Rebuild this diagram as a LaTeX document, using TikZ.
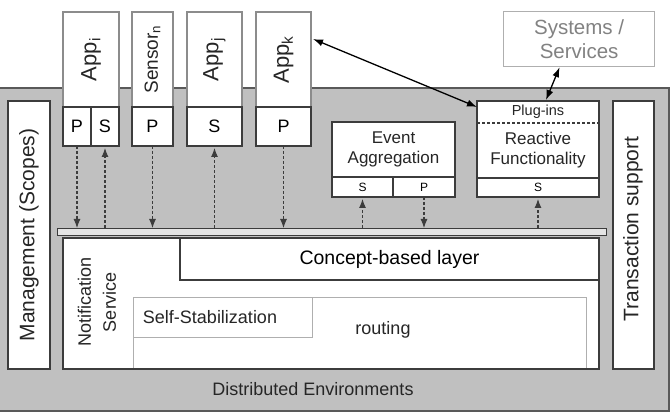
\documentclass[tikz,border=0pt]{standalone}
\usepackage{fontspec}
\setmainfont{Liberation Sans}
\usetikzlibrary{arrows.meta,calc}
\definecolor{bggray}{RGB}{192,192,192}
\definecolor{edge}{RGB}{60,60,60}
\definecolor{midedge}{RGB}{140,140,140}
\definecolor{lite}{RGB}{175,175,175}
\definecolor{bartint}{RGB}{228,228,228}
\definecolor{greytext}{RGB}{130,130,130}
\newcommand\fs[1]{\fontsize{#1}{#1}\selectfont}
\newcommand\rbox[6][]{\node[bx,minimum width=#4pt,minimum height=#5pt,#1] (#2) at (#3) {#6};}
\tikzset{
  bx/.style={draw=edge, line width=1.3pt, fill=white, inner sep=0pt, outer sep=0pt, anchor=north west},
  appbox/.style={draw=midedge, line width=1.2pt},
  litebox/.style={draw=lite, line width=0.9pt},
  txt/.style={inner sep=0pt, align=center, text=black!85},
  flow/.style={draw=edge, line width=1.1pt, dash pattern=on 3pt off 2pt, -{Latex[length=9pt,width=7pt]}},
  link/.style={draw=black, line width=1.3pt, {Latex[length=10pt,width=7pt]}-{Latex[length=10pt,width=7pt]}},
}
\begin{document}
\begin{tikzpicture}[x=1pt,y=-1pt]
\useasboundingbox (0,0) rectangle (672,419);
% environment background
\node[draw=black!65, line width=2.2pt, fill=bggray, anchor=north west, inner sep=0pt,
      minimum width=672pt, minimum height=323pt] (env) at (-4,87) {};
\node[txt, font=\fs{18}] (envlabel) at (313,389) {Distributed Environments};

% side boxes
\rbox{mgmt}{8,101}{42}{268}{}
\node[txt, rotate=90, font=\fs{21}] (mgmtlabel) at (mgmt.center) {Management (Scopes)};
\rbox{trans}{613,101}{41}{268}{}
\node[txt, rotate=90, font=\fs{21}] (translabel) at (633,229) {Transaction support};

% applications
\rbox[appbox]{appi}{63,12}{56}{95}{}
\node[txt, rotate=90, font=\fs{22}] (appilabel) at (appi.center) {App\textsubscript{i}};
\rbox{appiP}{63,107}{28}{39}{\fs{18}P}
\rbox{appiS}{91,107}{28}{39}{\fs{18}S}

\rbox[appbox]{sens}{132,12}{41}{95}{}
\node[txt, rotate=90, font=\fs{19}] (senslabel) at (sens.center) {Sensor\textsubscript{n}};
\rbox{sensP}{132,107}{41}{39}{\fs{18}P}

\rbox[appbox]{appj}{187,12}{55}{95}{}
\node[txt, rotate=90, font=\fs{22}] (appjlabel) at (appj.center) {App\textsubscript{j}};
\rbox{appjS}{187,107}{55}{39}{\fs{18}S}

\rbox[appbox]{appk}{256,12}{55}{95}{}
\node[txt, rotate=90, font=\fs{22}] (appklabel) at (appk.center) {App\textsubscript{k}};
\rbox{appkP}{256,107}{55}{39}{\fs{18}P}

% event aggregation
\rbox{ea}{332,122}{123}{55}{}
\node[txt, font=\fs{17}, align=center] (ealabel) at (ea.center) {Event\\[3pt]Aggregation};
\rbox{eaS}{332,177}{61}{20}{\fs{12}S}
\rbox{eaP}{393,177}{62}{20}{\fs{12}P}

% reactive functionality
\rbox{react}{477,101}{122}{77}{}
\draw[edge, line width=1.1pt, dash pattern=on 3pt off 2pt] (477,123) -- (599,123);
\node[txt, font=\fs{14.5}] (plugins) at (538,112) {Plug-ins};
\node[txt, font=\fs{17}, align=center] (reactlabel) at (538,150.5) {Reactive\\[3pt]Functionality};
\rbox{reactS}{477,178}{122}{19}{\fs{12}S}

% systems / services
\node[draw=lite, line width=1.2pt, fill=white, inner sep=0pt, anchor=north west,
      minimum width=151pt, minimum height=55pt, text=greytext, font=\fs{20.5}, align=center] (sys) at (503,11)
      {Systems /\\[3pt]Services};

% bus bar
\node[draw=edge, line width=1.2pt, fill=bartint, inner sep=0pt, anchor=north west,
      minimum width=549pt, minimum height=7pt] (bar) at (57,228) {};

% notification service
\rbox{notif}{63,238}{536}{131}{}
\rbox{concept}{180,238}{419}{42}{\fs{19.5}Concept-based layer}
\node[litebox, fill=white, inner sep=0pt, anchor=north west, minimum width=453pt, minimum height=72pt] (routing) at (133,297) {};
\node[txt, font=\fs{18}] (routinglabel) at (383,330) {routing};
\node[litebox, fill=white, inner sep=0pt, anchor=north west, minimum width=179pt, minimum height=40pt] (selfstab) at (133,297) {};
\node[txt, font=\fs{18}] (selfstablabel) at (210,317) {Self-Stabilization};
\draw[edge, line width=1.3pt] (63,369) -- (599,369);
\node[txt, rotate=90, font=\fs{18}, align=center] (notiflabel) at (97,302) {Notification\\[7pt]Service};

% publish / subscribe flows
\draw[flow] (appiP.south) -- (appiP.south |- bar.north);
\draw[flow] (appiS.south |- bar.north) -- ([yshift=-2pt]appiS.south);
\draw[flow] (sensP.south) -- (sensP.south |- bar.north);
\draw[flow] (appjS.south |- bar.north) -- ([yshift=-2pt]appjS.south);
\draw[flow] (appkP.south) -- (appkP.south |- bar.north);
\draw[flow] (eaS.south |- bar.north) -- ([yshift=-2pt]eaS.south);
\draw[flow] (eaP.south) -- (eaP.south |- bar.north);
\draw[flow] (reactS.south |- bar.north) -- ([yshift=-2pt]reactS.south);

% plug-in links
\draw[link] ([xshift=2pt,yshift=20.5pt]appk.east) -- ([yshift=-6pt]react.north west);
\draw[link] ([xshift=8pt,yshift=1pt]react.north) -- ([xshift=-19.5pt]sys.south);
\end{tikzpicture}
\end{document}
